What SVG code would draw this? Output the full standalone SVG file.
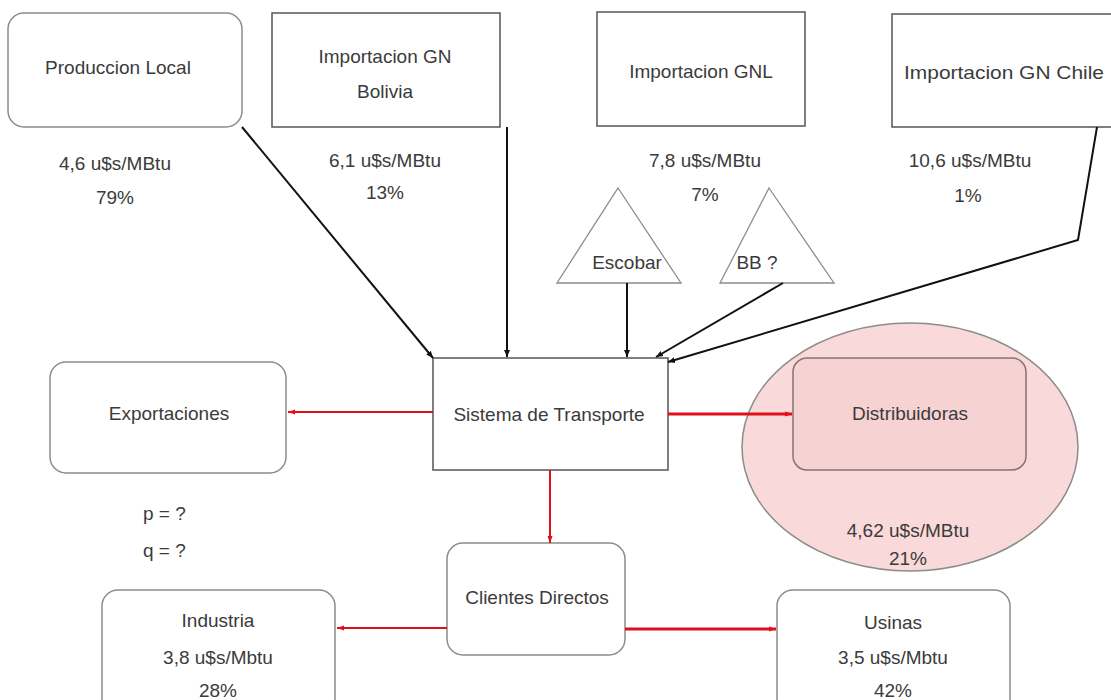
<svg xmlns="http://www.w3.org/2000/svg" width="1111" height="700" viewBox="0 0 1111 700">
<defs>
<marker id="ab" markerWidth="8" markerHeight="8" refX="7" refY="4" orient="auto" markerUnits="userSpaceOnUse"><path d="M0,1 L7,4 L0,7 z" fill="#111"/></marker>
<marker id="ar" markerWidth="8" markerHeight="8" refX="7" refY="4" orient="auto" markerUnits="userSpaceOnUse"><path d="M0,1.5 L7,4 L0,6.5 z" fill="#e0101a"/></marker>
<style>
text{font-family:"Liberation Sans",Arial,sans-serif;font-size:19px;fill:#3b3b3b;text-anchor:middle}
.box{fill:#fff;stroke:#8c8c8c;stroke-width:1.5}
.sq{fill:#fff;stroke:#555;stroke-width:1.5}
.tri{fill:#fff;stroke:#8c8c8c;stroke-width:1.3}
.blk{stroke:#111;stroke-width:2;fill:none;marker-end:url(#ab)}
.red{stroke:#e0101a;stroke-width:2;fill:none;marker-end:url(#ar)}
.redt{stroke:#e0101a;stroke-width:3;fill:none;marker-end:url(#ar)}
</style>
</defs>
<rect width="1111" height="700" fill="#fff"/>

<g id="produccion-local">
<rect class="box" x="8" y="13" width="234" height="114" rx="16"/>
<text x="118" y="74">Produccion Local</text>
<text x="115" y="170">4,6 u$s/MBtu</text>
<text x="115" y="204">79%</text>
</g>

<g id="importacion-bolivia">
<rect class="sq" x="272" y="13" width="228" height="114"/>
<text x="385" y="63">Importacion GN</text>
<text x="385" y="98">Bolivia</text>
<text x="385" y="167">6,1 u$s/MBtu</text>
<text x="385" y="199">13%</text>
</g>

<g id="importacion-gnl">
<rect class="sq" x="597" y="12" width="208" height="114"/>
<text x="701" y="78">Importacion GNL</text>
<text x="705" y="167">7,8 u$s/MBtu</text>
<text x="705" y="201">7%</text>
</g>

<g id="importacion-chile">
<rect class="sq" x="892" y="14" width="230" height="113"/>
<text x="1004" y="79" textLength="200" lengthAdjust="spacingAndGlyphs">Importacion GN Chile</text>
<text x="970" y="167">10,6 u$s/MBtu</text>
<text x="968" y="202">1%</text>
</g>

<g id="escobar">
<polygon class="tri" points="618,188 681,283 557,283"/>
<text x="627" y="269">Escobar</text>
</g>

<g id="bb">
<polygon class="tri" points="769,188 834,283 720,283"/>
<text x="757" y="269">BB ?</text>
</g>

<g id="sistema-transporte">
<rect class="sq" x="433" y="358" width="235" height="112"/>
<text x="549" y="421">Sistema de Transporte</text>
</g>

<g id="exportaciones">
<rect class="box" x="50" y="362" width="236" height="111" rx="16"/>
<text x="169" y="420">Exportaciones</text>
<text x="143" y="520" style="text-anchor:start">p = ?</text>
<text x="143" y="557" style="text-anchor:start">q = ?</text>
</g>

<g id="distribuidoras">
<ellipse cx="910" cy="447" rx="168" ry="124" fill="#f9d9d9" stroke="#8c8c8c" stroke-width="1.5"/>
<rect x="793" y="358" width="233" height="112" rx="14" fill="#f7d2d2" stroke="#8a7272" stroke-width="1.5"/>
<text x="910" y="420">Distribuidoras</text>
<text x="908" y="537">4,62 u$s/MBtu</text>
<text x="908" y="565">21%</text>
</g>

<g id="clientes-directos">
<rect class="box" x="447" y="543" width="178" height="112" rx="16"/>
<text x="537" y="604">Clientes Directos</text>
</g>

<g id="industria">
<rect class="box" x="102" y="590" width="233" height="125" rx="16"/>
<text x="218" y="627">Industria</text>
<text x="218" y="664">3,8 u$s/Mbtu</text>
<text x="218" y="697">28%</text>
</g>

<g id="usinas">
<rect class="box" x="777" y="590" width="233" height="125" rx="16"/>
<text x="893" y="629">Usinas</text>
<text x="893" y="664">3,5 u$s/Mbtu</text>
<text x="893" y="697">42%</text>
</g>

<g id="connectors">
<line class="blk" x1="242" y1="127" x2="433" y2="358"/>
<line class="blk" x1="507" y1="127" x2="507" y2="357"/>
<line class="blk" x1="627" y1="283" x2="627" y2="357"/>
<line class="blk" x1="783" y1="283" x2="656" y2="357"/>
<polyline class="blk" points="1097,127 1078,240 668,362"/>
<line class="red" x1="433" y1="412" x2="288" y2="412"/>
<line class="redt" x1="668" y1="414" x2="792" y2="414"/>
<line class="red" x1="550" y1="470" x2="550" y2="543"/>
<line class="red" x1="447" y1="628" x2="337" y2="628"/>
<line class="redt" x1="625" y1="629" x2="776" y2="629"/>
</g>
</svg>
